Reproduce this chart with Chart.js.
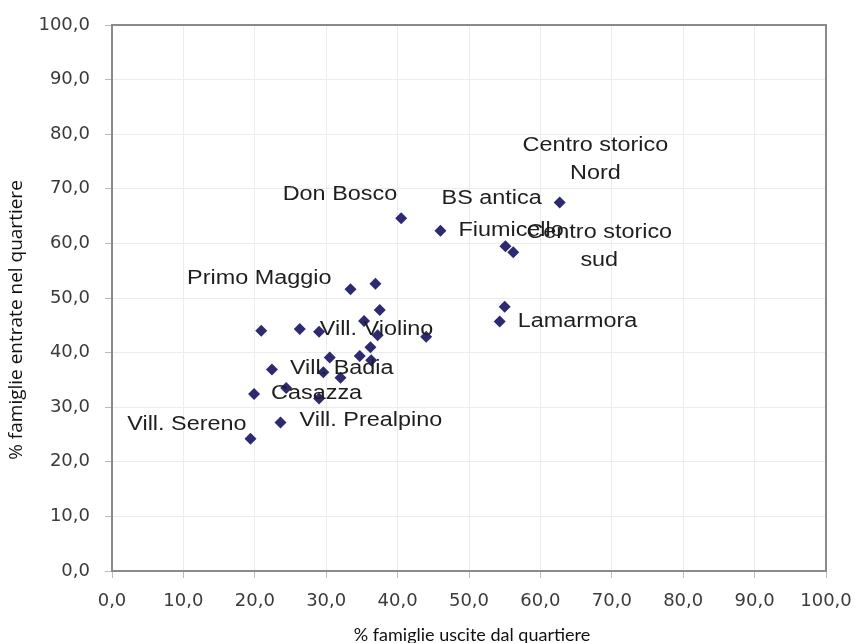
<!DOCTYPE html>
<html>
<head>
<meta charset="utf-8">
<script src="https://cdn.jsdelivr.net/npm/chart.js@4.4.0/dist/chart.umd.min.js"></script>
<style>
  html, body { margin: 0; padding: 0; background: #fff; }
  #wrap { width: 858px; height: 643px; }
</style>
</head>
<body>
<div id="wrap"><canvas id="chart"></canvas></div>
<script>
// ------------ DATA ---------------
// % famiglie uscite (x) / % famiglie entrate (y)
const uscite = [62.7, 46.0, 55.1, 56.2, 55.0, 54.3, 40.5, 33.4, 36.9, 37.5, 35.3, 26.3, 29.0, 20.9,
  37.2, 44.0, 36.2, 34.7, 36.3, 30.5, 29.6, 32.0, 22.4, 19.9, 24.4, 29.0, 23.6, 19.4];
const entrate = [67.5, 62.3, 59.5, 58.4, 48.4, 45.7, 64.6, 51.6, 52.6, 47.8, 45.8, 44.3, 43.8, 44.0,
  43.2, 42.9, 41.0, 39.4, 38.6, 39.1, 36.4, 35.4, 36.9, 32.4, 33.5, 31.6, 27.2, 24.2];
const quartieri = ["BS antica", "Fiumicello", "Centro storico\nNord", "Centro storico\nsud", "", "Lamarmora",
  "Don Bosco", "Primo Maggio", "", "", "", "Vill. Violino", "", "",
  "", "", "", "", "", "", "", "", "Vill. Badia", "Casazza", "", "", "Vill. Prealpino", "Vill. Sereno"];
const tickValues = [0, 10, 20, 30, 40, 50, 60, 70, 80, 90, 100];
const xTitle = '% famiglie uscite dal quartiere';
const yTitle = '% famiglie entrate nel quartiere';

// where each name sits around its point: [dx, dy, align]
const labelPlace = {
  "BS antica": [-18, -4, "right"],
  "Fiumicello": [18, 0, "left"],
  "Centro storico\nNord": [90, -101, "center"],
  "Centro storico\nsud": [86, -20, "center"],
  "Lamarmora": [18, 0, "left"],
  "Don Bosco": [-4, -24, "right"],
  "Primo Maggio": [-19, -11, "right"],
  "Vill. Violino": [20, 0, "left"],
  "Vill. Badia": [18, -1, "left"],
  "Casazza": [17, -1, "left"],
  "Vill. Prealpino": [19, -2, "left"],
  "Vill. Sereno": [-4, -14, "right"]
};

const points = uscite.map((x, i) => ({ x: x, y: entrate[i] }));
const fmt = v => v.toFixed(1).replace('.', ',');

const boxPlugin = {
  id: 'box',
  beforeDatasetsDraw(chart) {
    const a = chart.chartArea, ctx = chart.ctx;
    ctx.save();
    ctx.strokeStyle = '#8a8a8a';
    ctx.lineWidth = 2;
    ctx.strokeRect(a.left, a.top, a.right - a.left, a.bottom - a.top);
    ctx.restore();
  }
};

// names next to the points, a bit wider than normal like the original
const namesPlugin = {
  id: 'names',
  afterDatasetsDraw(chart) {
    const ctx = chart.ctx, xs = chart.scales.x, ys = chart.scales.y;
    ctx.save();
    ctx.font = '20px "Liberation Sans", Arial, sans-serif';
    ctx.fillStyle = '#1e1e1e';
    ctx.textBaseline = 'middle';
    quartieri.forEach((name, i) => {
      if (!name) return;
      const p = labelPlace[name];
      const px = xs.getPixelForValue(uscite[i]) + p[0];
      const py = ys.getPixelForValue(entrate[i]) + p[1];
      ctx.textAlign = p[2];
      name.split('\n').forEach((line, k) => {
        ctx.save();
        ctx.translate(px, py + k * 28);
        ctx.scale(1.17, 1);
        ctx.fillText(line, 0, 0);
        ctx.restore();
      });
    });
    ctx.restore();
  }
};

const titlesPlugin = {
  id: 'titles',
  afterDraw(chart) {
    const ctx = chart.ctx, a = chart.chartArea;
    ctx.save();
    ctx.fillStyle = '#111';
    ctx.textAlign = 'center';
    ctx.textBaseline = 'middle';
    ctx.font = '18px Lato, "Open Sans", sans-serif';
    ctx.fillText(xTitle, (a.left + a.right) / 2 + 3, 635);
    ctx.translate(17, (a.top + a.bottom) / 2 + 22);
    ctx.rotate(-Math.PI / 2);
    ctx.font = '19px "Open Sans", sans-serif';
    ctx.fillText(yTitle, 0, 0);
    ctx.restore();
  }
};

new Chart(document.getElementById('chart'), {
  type: 'scatter',
  data: {
    datasets: [{
      label: 'Quartieri',
      data: points,
      pointStyle: 'rectRot',
      pointRadius: 6,
      pointHoverRadius: 6,
      backgroundColor: '#2d2a70',
      borderColor: '#2d2a70',
      borderWidth: 0
    }]
  },
  options: {
    responsive: true,
    maintainAspectRatio: false,
    animation: false,
    layout: { padding: { top: 25, right: 32, left: 0, bottom: 0 } },
    plugins: {
      legend: { display: false },
      tooltip: { enabled: false }
    },
    scales: {
      x: {
        type: 'linear',
        min: 0,
        max: 100,
        afterBuildTicks: s => { s.ticks = tickValues.map(v => ({ value: v })); },
        afterFit: s => {
          s.height = 72;
          s.paddingLeft = 0;
          s.paddingRight = 0;
        },
        ticks: {
          callback: fmt,
          font: { family: '"DejaVu Sans", sans-serif', size: 18 },
          color: '#3a3a3a',
          padding: 13,
          maxRotation: 0
        },
        grid: { color: '#ececec', tickColor: '#bbbbbb', tickLength: 7 },
        border: { display: false }
      },
      y: {
        type: 'linear',
        min: 0,
        max: 100,
        afterBuildTicks: s => { s.ticks = tickValues.map(v => ({ value: v })); },
        afterFit: s => {
          s.width = 112;
          s.paddingTop = 0;
          s.paddingBottom = 0;
        },
        ticks: {
          callback: fmt,
          font: { family: '"DejaVu Sans", sans-serif', size: 18 },
          color: '#3a3a3a',
          padding: 15
        },
        grid: { color: '#ececec', tickColor: '#bbbbbb', tickLength: 7 },
        border: { display: false }
      }
    }
  },
  plugins: [boxPlugin, namesPlugin, titlesPlugin]
});
</script>
</body>
</html>
